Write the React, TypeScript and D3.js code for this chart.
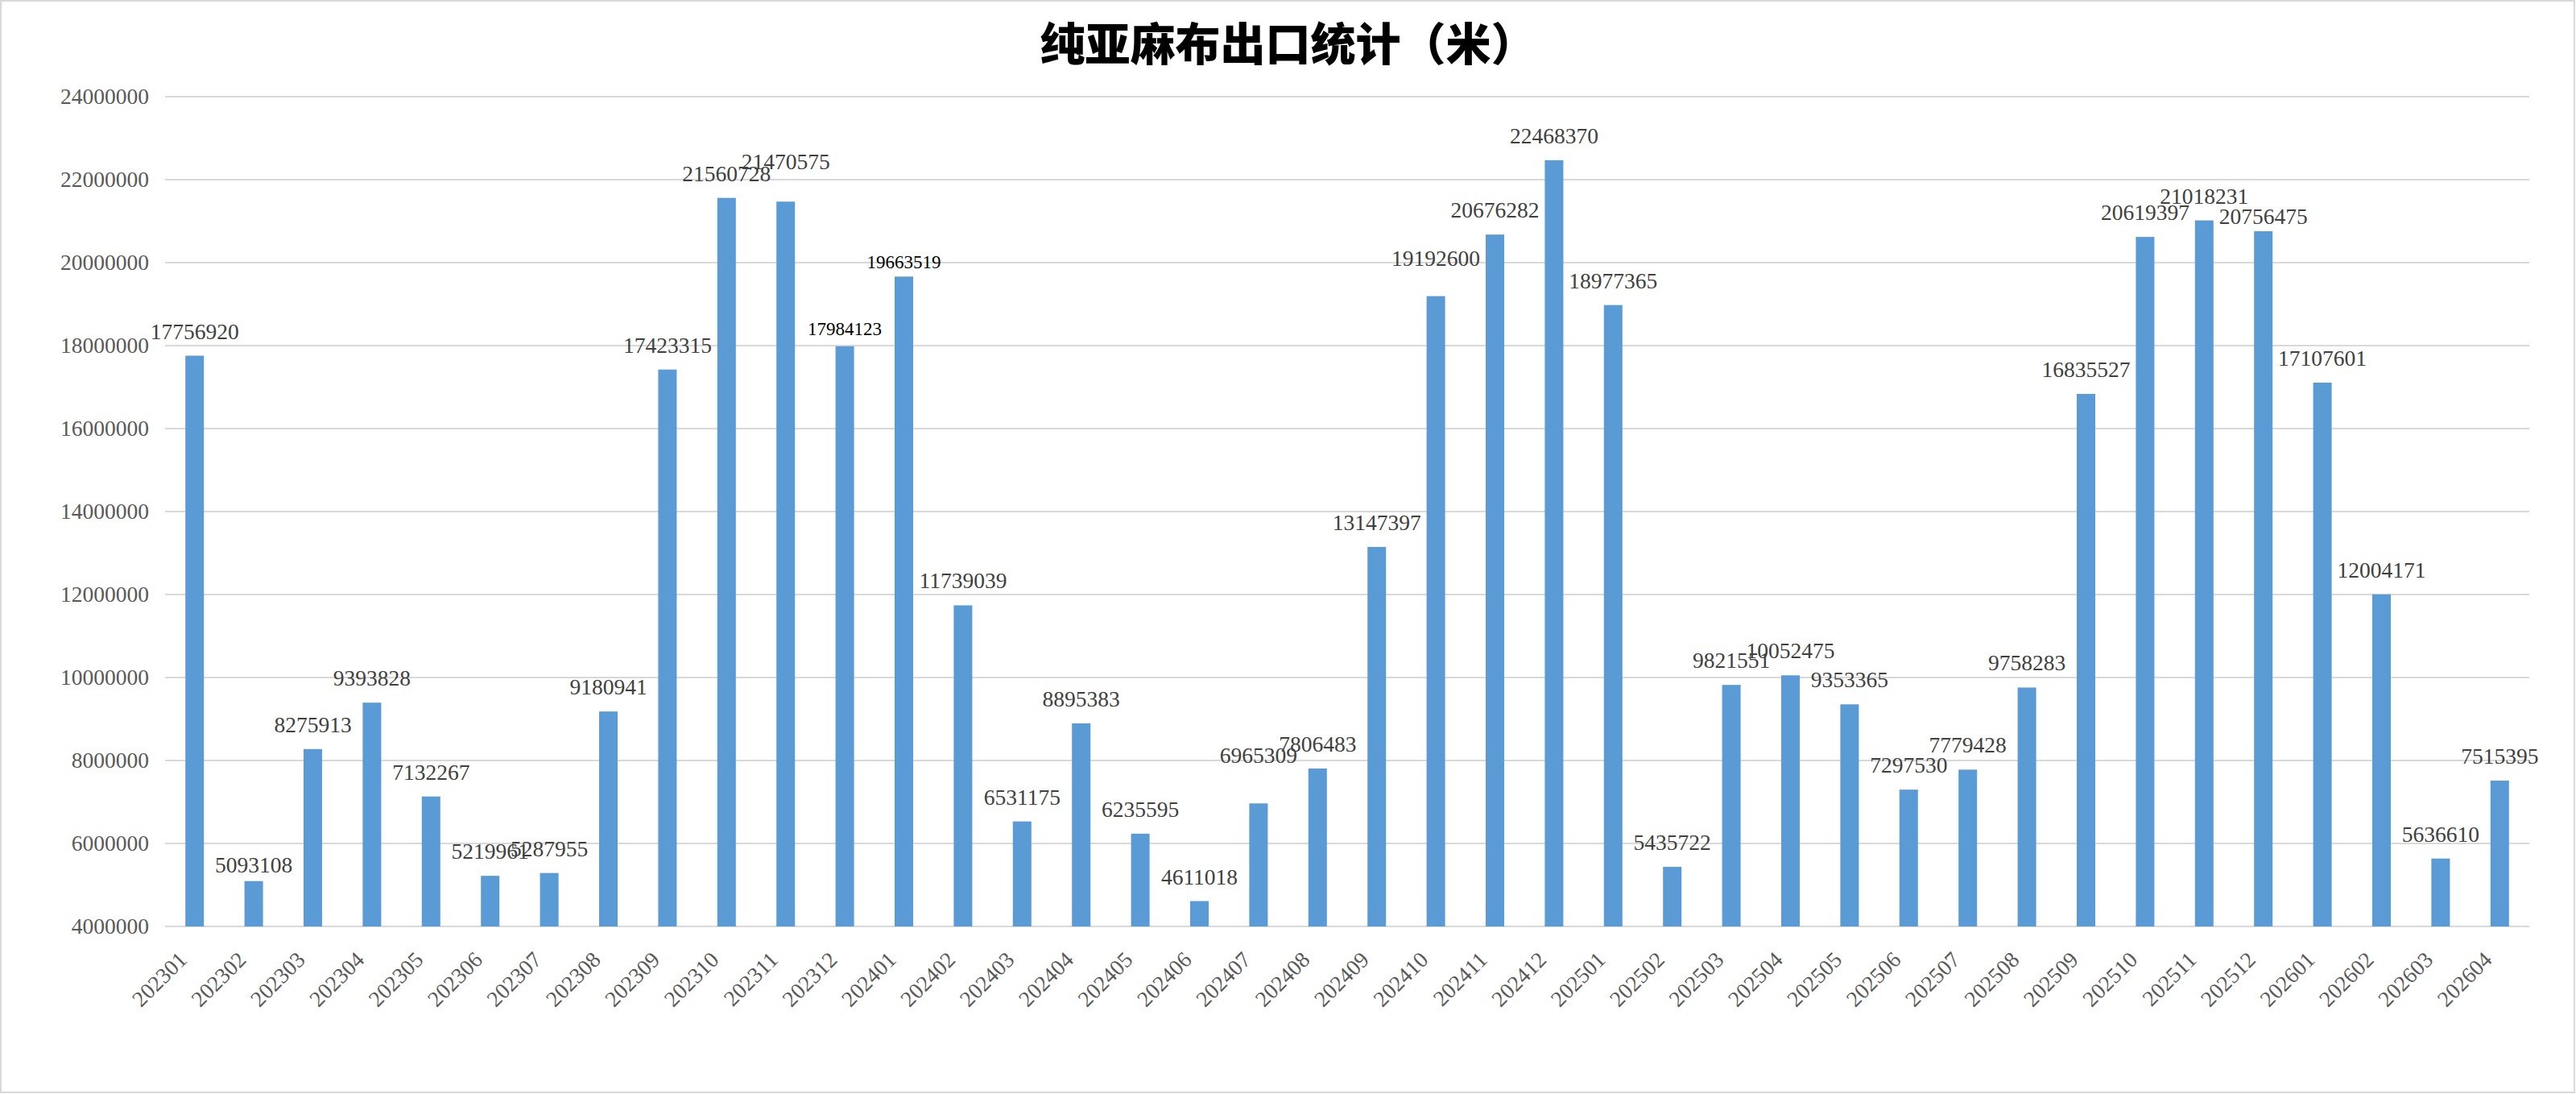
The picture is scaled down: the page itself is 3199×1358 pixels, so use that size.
import React from "react";
import * as d3 from "d3";

const months = [
  "202301","202302","202303","202304","202305","202306","202307","202308","202309","202310","202311","202312",
  "202401","202402","202403","202404","202405","202406","202407","202408","202409","202410","202411","202412",
  "202501","202502","202503","202504","202505","202506","202507","202508","202509","202510","202511","202512",
  "202601","202602","202603","202604",
];

const values = [
  17756920, 5093108, 8275913, 9393828, 7132267, 5219961, 5287955, 9180941, 17423315, 21560728, 21470575, 17984123,
  19663519, 11739039, 6531175, 8895383, 6235595, 4611018, 6965309, 7806483, 13147397, 19192600, 20676282, 22468370,
  18977365, 5435722, 9821551, 10052475, 9353365, 7297530, 7779428, 9758283, 16835527, 20619397, 21018231, 20756475,
  17107601, 12004171, 5636610, 7515395,
];

const yTickValues = [4000000, 6000000, 8000000, 10000000, 12000000, 14000000, 16000000, 18000000, 20000000, 22000000, 24000000];

const title = "纯亚麻布出口统计（米）";

// label layout tweaks (as placed in the original chart)
const labelGapDefault = 21;
const labelGap: Record<string, number> = {
  "202302": 11, "202311": 40, "202312": 14, "202401": 10, "202407": 50, "202410": 38, "202512": 9,
};
const smallLabels = new Set(["202312", "202401"]);

const W = 3199;
const H = 1358;

export default function App() {
  const x = d3.scaleBand<string>()
    .domain(months)
    .range([205, 3141])
    .paddingInner(0.6865)
    .paddingOuter(0.6865 / 2);
  const y = d3.scaleLinear().domain([4000000, 24000000]).range([1150, 120]);
  const serif = "'Liberation Serif', 'Times New Roman', serif";
  const bw = x.bandwidth();

  return (
    <svg width={W} height={H} viewBox={`0 0 ${W} ${H}`}
      style={{ position: "absolute", left: 0, top: 0, background: "#fff" }}>
      <rect x={0} y={0} width={W} height={H} fill="#ffffff" />
      <rect x={1} y={1} width={W - 3} height={H - 3} fill="none" stroke="#d9d9d9" strokeWidth={2} />
      <text x={1599.5} y={75} textAnchor="middle" fontFamily="'Noto Sans CJK SC', sans-serif"
        fontWeight={900} fontSize={56} fill="#000">{title}</text>
      {yTickValues.map((t) => (
        <g key={t}>
          <line x1={205} x2={3141} y1={y(t)} y2={y(t)} stroke="#d9d9d9" strokeWidth={2} />
          <text x={185} y={y(t) + 8.5} textAnchor="end" fontFamily={serif} fontSize={27.5} fill="#595959">{t}</text>
        </g>
      ))}
      {months.map((m, i) => {
        const bx = x(m)!;
        const cy = y(values[i]);
        return (
          <rect key={m} x={bx} y={cy} width={bw} height={y(4000000) - cy} fill="#5b9bd5" />
        );
      })}
      {months.map((m, i) => {
        const cx = x(m)! + bw / 2;
        const cy = y(values[i]);
        const gap = labelGap[m] ?? labelGapDefault;
        const small = smallLabels.has(m);
        return (
          <text key={"l" + m} x={cx} y={cy - gap} textAnchor="middle" fontFamily={serif}
            fontSize={small ? 23 : 27.5} fill={small ? "#000000" : "#404040"}>{values[i]}</text>
        );
      })}
      {months.map((m) => {
        const cx = x(m)! + bw / 2;
        return (
          <text key={"x" + m} transform={`translate(${cx - 8},1193) rotate(-45)`} textAnchor="end"
            fontFamily={serif} fontSize={27.5} fill="#595959">{m}</text>
        );
      })}
    </svg>
  );
}
